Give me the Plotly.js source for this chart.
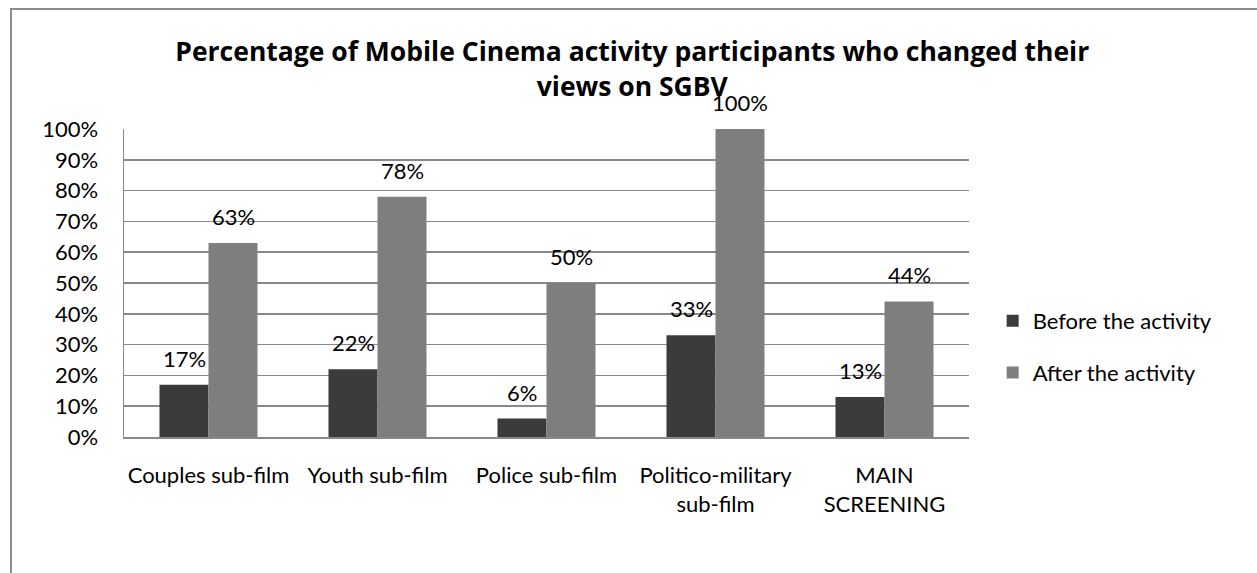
<!DOCTYPE html>
<html>
<head>
<meta charset="utf-8">
<script src="https://cdn.plot.ly/plotly-3.0.1.min.js"></script>
<style>
  html, body { margin: 0; padding: 0; background: #fff; }
  #wrap { position: relative; width: 1257px; height: 573px; overflow: hidden; }
  #chart { width: 1257px; height: 573px; }
  #frame { position: absolute; left: 10px; top: 8px; width: 1300px; height: 700px;
           border-left: 2px solid #8c8c8c; border-top: 2px solid #8c8c8c; pointer-events: none; }
</style>
</head>
<body>
<div id="wrap">
  <div id="chart"></div>
  <div id="frame"></div>
</div>
<script>
const categories = ["Couples sub-film", "Youth sub-film", "Police sub-film", "Politico-military<br>sub-film", "MAIN<br>SCREENING"];
const beforeValues = [0.17, 0.22, 0.06, 0.33, 0.13];
const afterValues = [0.63, 0.78, 0.50, 1.00, 0.44];
const seriesNames = ["Before the activity", "After the activity"];
const yTickVals = [0, 0.1, 0.2, 0.3, 0.4, 0.5, 0.6, 0.7, 0.8, 0.9, 1.0];
const titleText = "Percentage of Mobile Cinema activity participants who changed their<br>views on SGBV";

const FONT = "Lato, 'Open Sans', sans-serif";
const TITLE_FONT = "'Open Sans', Lato, sans-serif";
const fmt = v => Math.round(v * 100) + "%";

const traces = [
  { type: "bar", name: seriesNames[0], x: categories, y: beforeValues,
    marker: { color: "#3b3b3b" }, legendgroup: "a", hoverinfo: "x+y" },
  { type: "bar", name: seriesNames[1], x: categories, y: afterValues,
    marker: { color: "#7e7e7e" }, legendgroup: "b", hoverinfo: "x+y" }
];

const annotations = [];
[beforeValues, afterValues].forEach((arr, si) => {
  arr.forEach((v, i) => {
    annotations.push({
      x: categories[i], y: v, xref: "x", yref: "y",
      text: fmt(v), showarrow: false, yanchor: "bottom",
      xshift: si === 0 ? -24.5 : 24.5, yshift: 11,
      font: { family: FONT, size: 22, color: "#000" }
    });
  });
});

const layout = {
  width: 1257, height: 573,
  margin: { l: 124, r: 288, t: 129, b: 136, pad: 0 },
  paper_bgcolor: "#fff", plot_bgcolor: "#fff",
  barmode: "group", bargap: 0.42, bargroupgap: 0,
  title: { text: titleText, font: { family: TITLE_FONT, size: 26.5, color: "#000", weight: "bold" },
           x: 0.503, xref: "container", xanchor: "center", y: 0.893, yanchor: "top", yref: "container" },
  xaxis: {
    type: "category", showgrid: false, showline: true, linecolor: "#888", linewidth: 1.5,
    ticks: "", ticklabelstandoff: 18,
    tickfont: { family: FONT, size: 22, color: "#000" }
  },
  yaxis: {
    range: [0, 1], tickvals: yTickVals, tickformat: ".0%",
    showgrid: true, gridcolor: "#888", gridwidth: 1.5,
    showline: true, linecolor: "#888", linewidth: 1.5, zeroline: false,
    ticks: "", ticklabelstandoff: 20,
    tickfont: { family: FONT, size: 22, color: "#000" }
  },
  legend: {
    x: 1.028, xanchor: "left", y: 0.292, yanchor: "middle",
    traceorder: "grouped", tracegroupgap: 20,
    font: { family: FONT, size: 22, color: "#000" },
    bgcolor: "rgba(0,0,0,0)"
  },
  annotations: annotations,
  showlegend: true
};

Plotly.newPlot("chart", traces, layout, { displayModeBar: false, staticPlot: true });
</script>
</body>
</html>
